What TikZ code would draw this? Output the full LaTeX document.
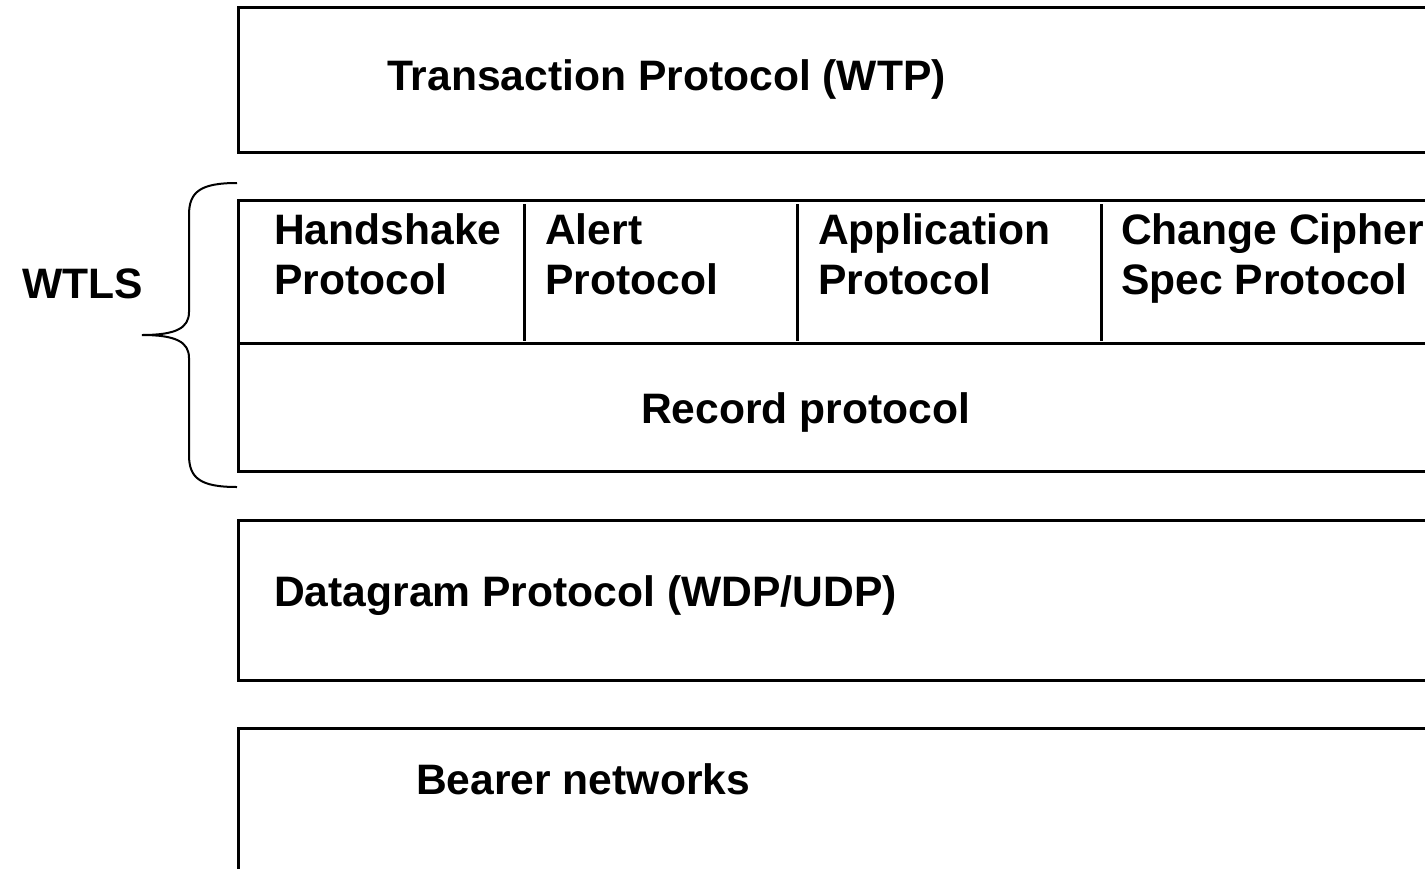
\documentclass[tikz,border=0pt]{standalone}
\usepackage{fontspec}
\setmainfont{Liberation Sans}
\begin{document}
\begin{tikzpicture}[x=1pt,y=-1pt,
  layer/.style={draw=black, line width=3pt, anchor=north west, inner sep=0pt, minimum width=1300pt},
  lbl/.style={anchor=base west, inner sep=0pt, font=\fontsize{42.6}{50}\selectfont\bfseries, align=left},
  divider/.style={draw=black, line width=3pt},
  brace/.style={draw=black, line width=2pt}]
\useasboundingbox (0,0) rectangle (1425,868);
\clip (0,0) rectangle (1425,868);
% layers
\node[layer, minimum height=145pt] (wtp) at (237,6) {};
\node[layer, minimum height=271pt] (wtls) at (237,199) {};
\node[layer, minimum height=160pt] (wdp) at (237,519) {};
\node[layer, minimum height=200pt] (bearer) at (237,727) {};
% inner dividers of WTLS
\coordinate (hl) at (240,343);
\coordinate (hr) at (1440,343);
\draw[divider] (hl) -- (hr);
\coordinate (d1t) at (524,204); \coordinate (d1b) at (524,341);
\coordinate (d2t) at (797,204); \coordinate (d2b) at (797,341);
\coordinate (d3t) at (1101,204); \coordinate (d3b) at (1101,341);
\draw[divider] (d1t) -- (d1b);
\draw[divider] (d2t) -- (d2b);
\draw[divider] (d3t) -- (d3b);
% brace
\coordinate (bt) at (237,183);
\coordinate (bm) at (142,335);
\coordinate (bb) at (237,487);
\draw[brace] (bt) .. controls (200,183) and (189,192) .. (189,215) -- (189,312)
  .. controls (189,328) and (176,335) .. (bm)
  .. controls (176,335) and (189,342) .. (189,358) -- (189,455)
  .. controls (189,478) and (200,487) .. (bb);
% labels
\node[lbl] (twtp) at (387,90) {Transaction Protocol (WTP)};
\node[lbl] (twtls) at (22,298) {WTLS};
\node[lbl] (thand) at (274,294) {Handshake\\Protocol};
\node[lbl] (talert) at (545,294) {Alert\\Protocol};
\node[lbl] (tapp) at (818,294) {Application\\Protocol};
\node[lbl] (tccs) at (1121,294) {Change Cipher\\Spec Protocol};
\node[lbl] (trec) at (641,423) {Record protocol};
\node[lbl] (twdp) at (274,606) {Datagram Protocol (WDP/UDP)};
\node[lbl] (tbear) at (416,794) {Bearer networks};
\end{tikzpicture}
\end{document}
